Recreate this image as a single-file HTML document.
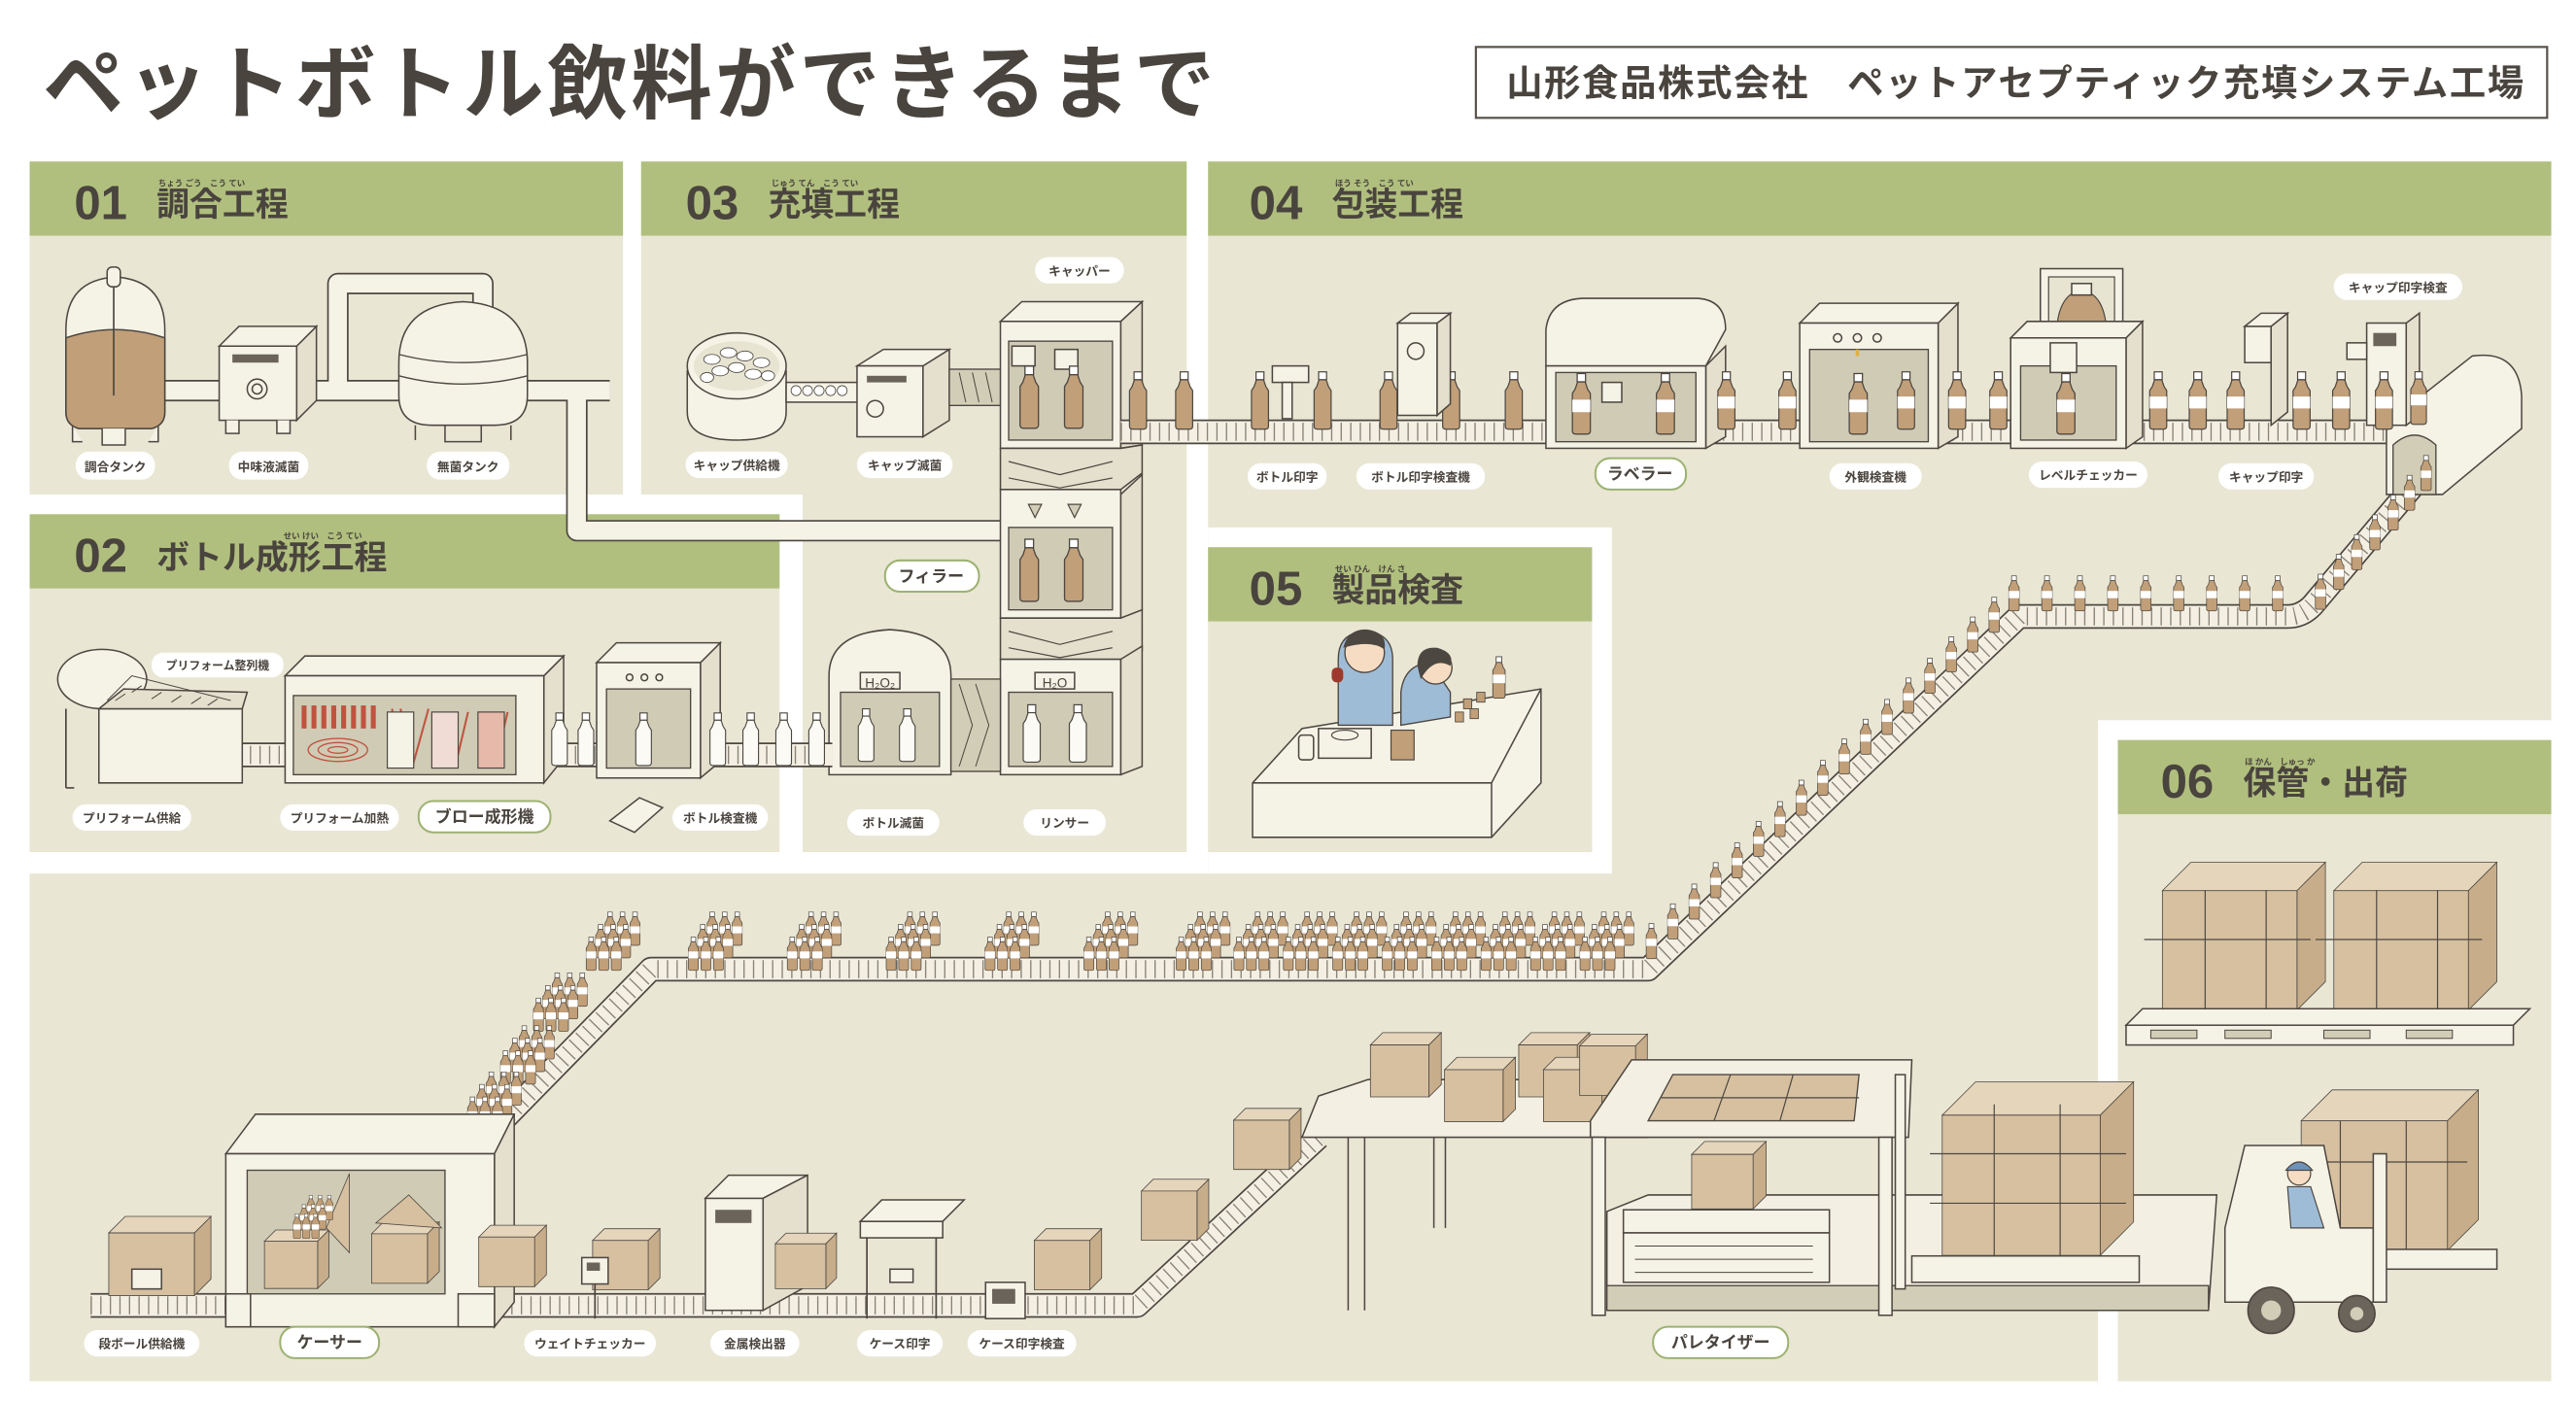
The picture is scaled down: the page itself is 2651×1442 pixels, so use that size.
<!DOCTYPE html>
<html><head><meta charset="utf-8"><style>
html,body{margin:0;padding:0;background:#fff;}
svg{display:block;}
text{font-family:"Liberation Sans","Noto Sans CJK JP",sans-serif;fill:#4a443e;}
.t{font-weight:bold;}
.m{fill:#f5f2e6;stroke:#4d4741;stroke-width:0.9;}
.ms{fill:#e4e0cd;stroke:#4d4741;stroke-width:0.9;}
.in{fill:#cfcbb5;stroke:#4d4741;stroke-width:0.8;}
.lb{fill:#fff;}
.lg{fill:#fff;stroke:#9db271;stroke-width:1.2;}
.pipe{fill:none;stroke:#4d4741;stroke-width:13;stroke-linejoin:round;}
.pipe2{fill:none;stroke:#f5f2e6;stroke-width:11;stroke-linejoin:round;}
.b1{fill:none;stroke:#4d4741;stroke-width:15;stroke-linejoin:round;}
.b2{fill:none;stroke:#f3f0e3;stroke-width:13;stroke-linejoin:round;}
.b3{fill:none;stroke:#8a8278;stroke-width:11;stroke-dasharray:0.8 5;stroke-linejoin:round;}
.bx{fill:#d6c0a0;stroke:#4d4741;stroke-width:0.8;vector-effect:non-scaling-stroke;}
.bxt{fill:#e5d5bb;stroke:#4d4741;stroke-width:0.8;vector-effect:non-scaling-stroke;}
.bxs{fill:#c7ad8a;stroke:#4d4741;stroke-width:0.8;vector-effect:non-scaling-stroke;}
</style></head><body>
<svg width="2651" height="1442" viewBox="0 0 1563 850" preserveAspectRatio="none" xmlns="http://www.w3.org/2000/svg">
<defs>
<symbol id="b" viewBox="0 0 10 30"><rect x="3" y="0.5" width="4" height="4" fill="#fff" stroke="#4d4741" stroke-width="0.6"/><path d="M3.2 4.5 L2 8 L0.7 10 L0.7 28 Q0.7 29.5 2.5 29.5 L7.5 29.5 Q9.3 29.5 9.3 28 L9.3 10 L8 8 L6.8 4.5 Z" fill="#c19f78" stroke="#4d4741" stroke-width="0.6"/><rect x="0.7" y="13" width="8.6" height="6" fill="#fff"/></symbol>
<symbol id="bn" viewBox="0 0 10 30"><rect x="3" y="0.5" width="4" height="4" fill="#fff" stroke="#4d4741" stroke-width="0.6"/><path d="M3.2 4.5 L2 8 L0.7 10 L0.7 28 Q0.7 29.5 2.5 29.5 L7.5 29.5 Q9.3 29.5 9.3 28 L9.3 10 L8 8 L6.8 4.5 Z" fill="#c19f78" stroke="#4d4741" stroke-width="0.6"/></symbol>
<symbol id="cb" viewBox="0 0 10 30"><rect x="3" y="0.5" width="4" height="4" fill="#fff" stroke="#4d4741" stroke-width="0.6"/><path d="M3.2 4.5 L2 8 L0.7 10 L0.7 28 Q0.7 29.5 2.5 29.5 L7.5 29.5 Q9.3 29.5 9.3 28 L9.3 10 L8 8 L6.8 4.5 Z" fill="#fbfaf4" stroke="#4d4741" stroke-width="0.6"/></symbol>
<symbol id="bx" viewBox="0 0 44 40"><path class="bxt" d="M0.5 8 L8 0.5 L43.5 0.5 L36 8 Z"/><path class="bxs" d="M36 8 L43.5 0.5 L43.5 32 L36 39.5 Z"/><rect class="bx" x="0.5" y="8" width="35.5" height="31.5"/></symbol>
<symbol id="grp" viewBox="0 0 40 40"><use href="#b" x="14" y="0" width="8" height="22"/><use href="#b" x="22" y="0" width="8" height="22"/><use href="#b" x="30" y="0" width="8" height="22"/><use href="#b" x="8" y="8" width="8" height="22"/><use href="#b" x="16" y="8" width="8" height="22"/><use href="#b" x="24" y="8" width="8" height="22"/><use href="#b" x="2" y="16" width="8" height="22"/><use href="#b" x="10" y="16" width="8" height="22"/><use href="#b" x="18" y="16" width="8" height="22"/></symbol>
</defs>

<rect width="1563" height="850" fill="#fff"/>
<text x="26" y="68" font-size="49" class="t" fill="#57504a" letter-spacing="2">ペットボトル飲料ができるまで</text>
<rect x="895.5" y="28.5" width="650" height="43" fill="#fff" stroke="#5a524a" stroke-width="1.3"/>
<text x="914" y="58" font-size="22" letter-spacing="1" class="t">山形食品株式会社　ペットアセプティック充填システム工場</text>

<rect x="18" y="98" width="360" height="202" fill="#e9e6d4"/>
<rect x="389" y="98" width="331" height="202" fill="#e9e6d4"/>
<rect x="487" y="98" width="233" height="419" fill="#e9e6d4"/>
<rect x="18" y="312" width="455" height="205" fill="#e9e6d4"/>
<path d="M733 98 L1548 98 L1548 437 L1273 437 L1273 838 L18 838 L18 530 L733 530 Z" fill="#e9e6d4"/>
<rect x="733" y="320" width="245" height="210" fill="#fff"/>
<rect x="733" y="332" width="233" height="185" fill="#e9e6d4"/>
<rect x="1273" y="437" width="290" height="413" fill="#fff"/>
<rect x="1285" y="449" width="263" height="389" fill="#e9e6d4"/>
<rect x="18" y="98" width="360" height="45" fill="#b0bf7e"/>
<rect x="389" y="98" width="331" height="45" fill="#b0bf7e"/>
<rect x="733" y="98" width="815" height="45" fill="#b0bf7e"/>
<rect x="18" y="312" width="455" height="45" fill="#b0bf7e"/>
<rect x="733" y="332" width="233" height="45" fill="#b0bf7e"/>
<rect x="1285" y="449" width="263" height="45" fill="#b0bf7e"/>
<g class="t">
<text x="45" y="133" font-size="29">01</text><text x="95" y="131" font-size="20">調合工程</text><text x="96" y="113" font-size="5">ちょう ごう　こう てい</text>
<text x="416" y="133" font-size="29">03</text><text x="466" y="131" font-size="20">充填工程</text><text x="468" y="113" font-size="5">じゅう てん　こう てい</text>
<text x="758" y="133" font-size="29">04</text><text x="808" y="131" font-size="20">包装工程</text><text x="810" y="113" font-size="5">ほう そう　こう てい</text>
<text x="45" y="347" font-size="29">02</text><text x="95" y="345" font-size="20">ボトル成形工程</text><text x="172" y="327" font-size="5">せい けい　こう てい</text>
<text x="758" y="367" font-size="29">05</text><text x="808" y="365" font-size="20">製品検査</text><text x="810" y="347" font-size="5">せい ひん　けん さ</text>
<text x="1311" y="484" font-size="29">06</text><text x="1361" y="482" font-size="20">保管・出荷</text><text x="1362" y="464" font-size="5">ほ かん　しゅっ か</text>
</g>

<!-- 01 -->
<path class="pipe" d="M96 237 L370 237 M205 237 L205 172 L293 172 L293 195 M320 237 L350 237 L350 322 L612 322"/>
<path class="pipe2" d="M96 237 L370 237 M205 237 L205 172 L293 172 L293 195 M320 237 L350 237 L350 322 L612 322"/>
<path class="m" d="M40 250 L40 200 Q40 170 70 168 Q100 170 100 200 L100 250 Q100 258 92 260 L48 260 Q40 258 40 250 Z"/>
<path d="M40 205 Q70 195 100 205 L100 250 Q100 258 92 260 L48 260 Q40 258 40 250 Z" fill="#c19f78" stroke="#4d4741" stroke-width="0.9"/>
<rect class="m" x="65" y="162" width="8" height="12" rx="3"/><line x1="69" y1="174" x2="69" y2="240" stroke="#4d4741"/>
<path d="M44 258 L44 268 L50 268 M96 258 L96 268 L90 268 M62 260 L62 270 L76 270 L76 260" fill="#f5f2e6" stroke="#4d4741" stroke-width="0.9"/>
<path class="ms" d="M180 210 L192 198 L192 243 L180 255 Z"/><path class="m" d="M133 210 L145 198 L192 198 L180 210 Z"/>
<rect class="m" x="133" y="210" width="47" height="45"/><rect x="141" y="215" width="28" height="5" fill="#6b645b"/>
<circle cx="156" cy="236" r="6" class="m"/><circle cx="156" cy="236" r="3" class="m"/>
<path d="M137 255 L137 263 L145 263 L145 255 M168 255 L168 263 L176 263 L176 255" fill="#f5f2e6" stroke="#4d4741" stroke-width="0.9"/>
<path class="m" d="M242 240 L242 220 Q242 185 281 183 Q320 185 320 220 L320 240 Q320 258 300 258 L262 258 Q242 258 242 240 Z"/>
<path d="M242 228 Q281 238 320 228" fill="none" stroke="#4d4741" stroke-width="0.8"/><path d="M242 215 Q281 225 320 215" fill="none" stroke="#4d4741" stroke-width="0.8"/>
<path d="M252 258 L252 267 M310 258 L310 267 M270 258 L270 268 L292 268 L292 258" fill="none" stroke="#4d4741" stroke-width="0.9"/>
<rect class="lb" x="46" y="274" width="48" height="17" rx="8"/><text x="70" y="286" font-size="7.5" text-anchor="middle" class="t">調合タンク</text>
<rect class="lb" x="139" y="274" width="48" height="17" rx="8"/><text x="163" y="286" font-size="7.5" text-anchor="middle" class="t">中味液滅菌</text>
<rect class="lb" x="259" y="274" width="50" height="17" rx="8"/><text x="284" y="286" font-size="7.5" text-anchor="middle" class="t">無菌タンク</text>

<!-- 03 -->
<path class="m" d="M417 225 L417 250 Q417 267 447 267 Q477 267 477 250 L477 225 Z"/>
<ellipse cx="447" cy="222" rx="30" ry="20" class="m"/>
<ellipse cx="447" cy="222" rx="26" ry="15" fill="#e8e4d2"/>
<g fill="#fff" stroke="#4d4741" stroke-width="0.5"><ellipse cx="432" cy="218" rx="5" ry="3"/><ellipse cx="442" cy="214" rx="5" ry="3"/><ellipse cx="452" cy="216" rx="5" ry="3"/><ellipse cx="462" cy="220" rx="5" ry="3"/><ellipse cx="437" cy="225" rx="5" ry="3"/><ellipse cx="447" cy="223" rx="5" ry="3"/><ellipse cx="457" cy="227" rx="5" ry="3"/><ellipse cx="429" cy="229" rx="4" ry="3"/><ellipse cx="466" cy="228" rx="4" ry="3"/></g>
<rect class="m" x="477" y="232" width="45" height="12"/>
<g fill="#fff" stroke="#4d4741" stroke-width="0.5"><circle cx="483" cy="237" r="3"/><circle cx="490" cy="237" r="3"/><circle cx="497" cy="237" r="3"/><circle cx="504" cy="237" r="3"/><circle cx="511" cy="237" r="3"/></g>
<path class="ms" d="M560 222 L576 212 L576 255 L560 265 Z"/><path class="m" d="M520 222 L536 212 L576 212 L560 222 Z"/>
<rect class="m" x="520" y="222" width="40" height="43"/><rect x="526" y="228" width="24" height="4" fill="#6b645b"/><circle cx="531" cy="248" r="5" class="m"/>
<rect x="576" y="224" width="33" height="22" fill="#d2cdb6" stroke="#4d4741" stroke-width="0.8"/>
<path d="M582 226 L586 244 M590 226 L594 244 M598 226 L602 244" stroke="#4d4741" stroke-width="0.6"/>
<path class="ms" d="M680 195 L693 183 L693 270 L680 272 Z"/><path class="m" d="M607 195 L620 183 L693 183 L680 195 Z"/>
<rect class="m" x="607" y="195" width="73" height="77"/><rect class="in" x="612" y="207" width="63" height="60"/>
<rect x="614" y="210" width="14" height="12" class="m"/><rect x="640" y="212" width="14" height="12" class="m"/>
<path class="ms" d="M607 272 L680 272 L693 270 L693 287 L680 297 L607 297 Z"/>
<path d="M612 280 L643 288 L675 280 M612 290 L643 296 L675 290" fill="none" stroke="#4d4741" stroke-width="0.7"/>
<path class="ms" d="M680 300 L693 288 L693 370 L680 375 Z"/>
<rect class="m" x="607" y="297" width="73" height="78"/><rect class="in" x="612" y="320" width="63" height="50"/>
<path d="M624 306 L628 314 L632 306 Z M648 306 L652 314 L656 306 Z" fill="#d2cdb6" stroke="#4d4741" stroke-width="0.7"/>
<path class="ms" d="M607 375 L680 375 L693 370 L693 395 L680 400 L607 400 Z"/>
<path d="M612 383 L643 391 L675 383 M612 393 L643 399 L675 393" fill="none" stroke="#4d4741" stroke-width="0.7"/>
<path class="ms" d="M680 400 L693 392 L693 465 L680 470 Z"/>
<rect class="m" x="607" y="400" width="73" height="70"/><rect class="in" x="612" y="420" width="63" height="45"/>
<rect x="628" y="408" width="24" height="10" class="m"/><text x="640" y="417" font-size="8" text-anchor="middle">H₂O</text>
<g><use href="#bn" x="618" y="220" width="13" height="42"/><use href="#bn" x="645" y="220" width="13" height="42"/>
<use href="#bn" x="618" y="325" width="13" height="42"/><use href="#bn" x="645" y="325" width="13" height="42"/>
<use href="#cb" x="620" y="425" width="12" height="40"/><use href="#cb" x="648" y="425" width="12" height="40"/></g>
<path class="m" d="M503 470 L503 410 Q503 384 540 382 Q577 384 577 410 L577 470 Z"/>
<rect class="in" x="510" y="420" width="60" height="45"/>
<rect x="522" y="408" width="24" height="10" class="m"/><text x="534" y="417" font-size="8" text-anchor="middle">H₂O₂</text>
<use href="#cb" x="520" y="428" width="11" height="36"/><use href="#cb" x="545" y="428" width="11" height="36"/>
<rect x="577" y="412" width="30" height="56" fill="#d2cdb6" stroke="#4d4741" stroke-width="0.8"/>
<path d="M582 415 L590 440 L582 465 M592 415 L600 440 L592 465" fill="none" stroke="#4d4741" stroke-width="0.6"/>
<rect class="lb" x="628" y="156" width="54" height="16" rx="8"/><text x="655" y="167" font-size="7.5" text-anchor="middle" class="t">キャッパー</text>
<rect class="lb" x="416" y="274" width="62" height="16" rx="8"/><text x="447" y="285" font-size="7.5" text-anchor="middle" class="t">キャップ供給機</text>
<rect class="lb" x="520" y="274" width="58" height="16" rx="8"/><text x="549" y="285" font-size="7.5" text-anchor="middle" class="t">キャップ滅菌</text>
<rect class="lg" x="537" y="340" width="57" height="19" rx="9"/><text x="565" y="353" font-size="10" text-anchor="middle" class="t">フィラー</text>
<rect class="lb" x="514" y="491" width="56" height="16" rx="8"/><text x="542" y="502" font-size="7.5" text-anchor="middle" class="t">ボトル滅菌</text>
<rect class="lb" x="621" y="491" width="50" height="16" rx="8"/><text x="646" y="502" font-size="7.5" text-anchor="middle" class="t">リンサー</text>

<!-- 02 -->
<path class="b1" d="M140 458 L505 458"/><path class="b2" d="M140 458 L505 458"/><path class="b3" d="M140 458 L505 458"/>
<ellipse cx="62" cy="412" rx="27" ry="18" class="m"/>
<path class="m" d="M60 430 L147 430 L147 475 L60 475 Z"/><path class="ms" d="M60 430 L75 418 L150 420 L147 430 Z"/>
<path d="M65 425 L80 410 L140 425" fill="none" stroke="#4d4741" stroke-width="0.6"/>
<g stroke="#4d4741" stroke-width="0.6" fill="#fff"><path d="M70 425 l6 -4 M80 420 l6 -4 M92 424 l6 -4 M104 426 l6 -4 M116 427 l6 -4 M126 428 l6 -4"/></g>
<path d="M40 430 L40 478 M45 478 L40 478" stroke="#4d4741" fill="none"/>
<path class="ms" d="M330 410 L342 398 L342 460 L330 475 Z"/><path class="m" d="M173 410 L185 398 L342 398 L330 410 Z"/>
<rect class="m" x="173" y="410" width="157" height="65"/><rect class="in" x="178" y="422" width="135" height="48"/>
<g fill="#c0533f"><rect x="183" y="428" width="3" height="14"/><rect x="189" y="428" width="3" height="14"/><rect x="195" y="428" width="3" height="14"/><rect x="201" y="428" width="3" height="14"/><rect x="207" y="428" width="3" height="14"/><rect x="213" y="428" width="3" height="14"/><rect x="219" y="428" width="3" height="14"/><rect x="225" y="428" width="3" height="14"/></g>
<g fill="none" stroke="#c0533f" stroke-width="0.8"><ellipse cx="205" cy="455" rx="18" ry="7"/><ellipse cx="205" cy="455" rx="12" ry="4.5"/><ellipse cx="205" cy="455" rx="6" ry="2"/></g>
<path d="M238 430 L238 466 M243 430 L250 466 L260 430 M268 432 L276 466 L284 432 M292 432 L300 466 L308 432" fill="none" stroke="#c0533f" stroke-width="1.2"/>
<rect x="235" y="432" width="16" height="34" fill="#f5f2e6" stroke="#4d4741" stroke-width="0.7"/>
<rect x="262" y="432" width="16" height="34" fill="#f0dcd5" stroke="#4d4741" stroke-width="0.7"/>
<rect x="290" y="432" width="16" height="34" fill="#e7b9aa" stroke="#4d4741" stroke-width="0.7"/>
<path class="ms" d="M425 402 L437 390 L437 462 L425 472 Z"/><path class="m" d="M362 402 L374 390 L437 390 L425 402 Z"/>
<rect class="m" x="362" y="402" width="63" height="70"/><rect class="in" x="368" y="418" width="51" height="48"/>
<circle cx="382" cy="411" r="2" class="m"/><circle cx="391" cy="411" r="2" class="m"/><circle cx="400" cy="411" r="2" class="m"/>
<g><use href="#cb" x="334" y="432" width="11" height="33"/><use href="#cb" x="350" y="432" width="11" height="33"/><use href="#cb" x="385" y="432" width="11" height="33"/><use href="#cb" x="430" y="432" width="11" height="33"/><use href="#cb" x="450" y="432" width="11" height="33"/><use href="#cb" x="470" y="432" width="11" height="33"/><use href="#cb" x="490" y="432" width="11" height="33"/></g>
<path d="M370 498 L388 484 L402 490 L385 505 Z" class="m"/>
<rect class="lb" x="92" y="396" width="80" height="15" rx="7"/><text x="132" y="406" font-size="7" text-anchor="middle" class="t">プリフォーム整列機</text>
<rect class="lb" x="44" y="488" width="72" height="16" rx="8"/><text x="80" y="499" font-size="7.5" text-anchor="middle" class="t">プリフォーム供給</text>
<rect class="lb" x="170" y="488" width="72" height="16" rx="8"/><text x="206" y="499" font-size="7.5" text-anchor="middle" class="t">プリフォーム加熱</text>
<rect class="lg" x="254" y="486" width="80" height="19" rx="9"/><text x="294" y="499" font-size="10" text-anchor="middle" class="t">ブロー成形機</text>
<rect class="lb" x="408" y="488" width="58" height="16" rx="8"/><text x="437" y="499" font-size="7.5" text-anchor="middle" class="t">ボトル検査機</text>

<!-- conveyors -->
<path class="b1" d="M680 262 L1460 262"/><path class="b2" d="M680 262 L1460 262"/><path class="b3" d="M680 262 L1460 262"/>
<path class="b1" d="M1485 270 L1405 365 Q1398 374 1388 374 L1225 374 L1000 588 L395 588 L295 690"/>
<path class="b2" d="M1485 270 L1405 365 Q1398 374 1388 374 L1225 374 L1000 588 L395 588 L295 690"/>
<path class="b3" d="M1485 270 L1405 365 Q1398 374 1388 374 L1225 374 L1000 588 L395 588 L295 690"/>
<path class="b1" d="M55 792 L690 792 L800 690"/><path class="b2" d="M55 792 L690 792 L800 690"/><path class="b3" d="M55 792 L690 792 L800 690"/>
<path class="m" d="M1448 300 L1448 262 Q1448 248 1462 246 L1500 216 Q1528 212 1530 240 L1530 260 L1482 300 Z"/>
<path d="M1452 300 L1452 270 Q1465 258 1478 270 L1478 300 Z" fill="#d2cdb6" stroke="#4d4741" stroke-width="0.8"/>

<g>
<use href="#bn" x="684" y="225" width="13" height="36"/><use href="#bn" x="712" y="225" width="13" height="36"/>
<use href="#bn" x="758" y="225" width="13" height="36"/><use href="#bn" x="796" y="225" width="13" height="36"/>
<use href="#bn" x="836" y="225" width="13" height="36"/><use href="#bn" x="874" y="225" width="13" height="36"/><use href="#bn" x="912" y="225" width="13" height="36"/>
</g>
<rect class="m" x="772" y="222" width="22" height="10"/><rect x="778" y="232" width="6" height="22" class="m"/>
<rect class="m" x="848" y="196" width="24" height="56"/><path class="ms" d="M872 196 L880 190 L880 245 L872 252 Z"/><path class="m" d="M848 196 L856 190 L880 190 L872 196Z"/><circle cx="859" cy="213" r="5" class="m"/>
<path class="ms" d="M1035 222 L1047 210 L1047 265 L1035 272 Z"/>
<path class="m" d="M938 222 L938 200 Q940 182 960 181 L1030 181 Q1047 182 1047 200 L1035 222 Z"/>
<rect class="m" x="938" y="222" width="97" height="50"/><rect class="in" x="944" y="226" width="85" height="42"/>
<use href="#b" x="953" y="226" width="13" height="38"/><use href="#b" x="1004" y="226" width="13" height="38"/>
<rect x="972" y="232" width="12" height="12" class="m"/>
<path class="ms" d="M1176 196 L1188 184 L1188 265 L1176 272 Z"/><path class="m" d="M1092 196 L1104 184 L1188 184 L1176 196 Z"/>
<rect class="m" x="1092" y="196" width="84" height="76"/><rect class="in" x="1098" y="212" width="72" height="56"/>
<circle cx="1115" cy="205" r="2.5" class="m"/><circle cx="1127" cy="205" r="2.5" class="m"/><circle cx="1139" cy="205" r="2.5" class="m"/>
<path d="M1127 212 L1127 216" stroke="#e0b040" stroke-width="2"/>
<use href="#b" x="1121" y="226" width="13" height="38"/>
<rect class="m" x="1238" y="163" width="50" height="40"/><rect x="1243" y="168" width="40" height="30" fill="#e8e4d2" stroke="#4d4741" stroke-width="0.7"/>
<path d="M1248 198 Q1250 178 1263 176 Q1276 178 1278 198 Z" fill="#c19f78" stroke="#4d4741" stroke-width="0.7"/><rect x="1257" y="172" width="12" height="7" class="m"/>
<path class="ms" d="M1290 205 L1300 195 L1300 265 L1290 272 Z"/><path class="m" d="M1220 205 L1230 195 L1300 195 L1290 205 Z"/>
<rect class="m" x="1220" y="205" width="70" height="67"/><rect class="in" x="1226" y="222" width="58" height="45"/>
<rect class="m" x="1244" y="208" width="16" height="18"/>
<use href="#b" x="1247" y="226" width="13" height="38"/>
<rect class="m" x="1362" y="198" width="16" height="22"/><path class="ms" d="M1378 198 L1388 190 L1388 250 L1378 258 Z"/><path class="m" d="M1362 198 L1372 190 L1388 190 L1378 198Z"/>
<rect class="m" x="1436" y="196" width="24" height="62"/><path class="ms" d="M1460 196 L1468 190 L1468 252 L1460 258Z"/><rect x="1440" y="202" width="14" height="8" fill="#6b645b"/>
<rect class="m" x="1424" y="208" width="12" height="10"/>
<g>
<use href="#b" x="1041" y="225" width="13" height="36"/><use href="#b" x="1078" y="225" width="13" height="36"/>
<use href="#b" x="1150" y="225" width="13" height="36"/><use href="#b" x="1181" y="225" width="13" height="36"/><use href="#b" x="1206" y="225" width="13" height="36"/>
<use href="#b" x="1303" y="225" width="13" height="36"/><use href="#b" x="1327" y="225" width="13" height="36"/><use href="#b" x="1350" y="225" width="13" height="36"/>
<use href="#b" x="1390" y="225" width="13" height="36"/><use href="#b" x="1414" y="225" width="13" height="36"/><use href="#b" x="1440" y="225" width="13" height="36"/>
<use href="#b" x="1462" y="225" width="11" height="33"/>
</g>
<g>
<use href="#b" x="1468" y="276" width="8" height="22"/><use href="#b" x="1458" y="288" width="8" height="22"/><use href="#b" x="1448" y="300" width="8" height="22"/><use href="#b" x="1437" y="312" width="8" height="22"/><use href="#b" x="1426" y="324" width="8" height="22"/><use href="#b" x="1415" y="336" width="8" height="22"/><use href="#b" x="1404" y="348" width="8" height="22"/>
<use href="#b" x="1378" y="349" width="8" height="22"/><use href="#b" x="1358" y="349" width="8" height="22"/><use href="#b" x="1338" y="349" width="8" height="22"/><use href="#b" x="1318" y="349" width="8" height="22"/><use href="#b" x="1298" y="349" width="8" height="22"/><use href="#b" x="1278" y="349" width="8" height="22"/><use href="#b" x="1258" y="349" width="8" height="22"/><use href="#b" x="1238" y="349" width="8" height="22"/><use href="#b" x="1218" y="349" width="8" height="22"/>
<use href="#b" x="1206" y="362" width="8" height="22"/><use href="#b" x="1193" y="374" width="8" height="22"/><use href="#b" x="1180" y="386" width="8" height="22"/><use href="#b" x="1167" y="399" width="8" height="22"/><use href="#b" x="1154" y="411" width="8" height="22"/><use href="#b" x="1141" y="424" width="8" height="22"/><use href="#b" x="1128" y="436" width="8" height="22"/><use href="#b" x="1115" y="448" width="8" height="22"/><use href="#b" x="1102" y="461" width="8" height="22"/><use href="#b" x="1089" y="473" width="8" height="22"/><use href="#b" x="1076" y="486" width="8" height="22"/><use href="#b" x="1063" y="498" width="8" height="22"/><use href="#b" x="1050" y="511" width="8" height="22"/><use href="#b" x="1037" y="523" width="8" height="22"/><use href="#b" x="1024" y="536" width="8" height="22"/><use href="#b" x="1011" y="548" width="8" height="22"/><use href="#b" x="998" y="560" width="8" height="22"/>
</g>
<g>
<use href="#grp" x="352" y="553" width="40" height="38"/><use href="#grp" x="414" y="553" width="40" height="38"/><use href="#grp" x="474" y="553" width="40" height="38"/><use href="#grp" x="534" y="553" width="40" height="38"/><use href="#grp" x="594" y="553" width="40" height="38"/><use href="#grp" x="654" y="553" width="40" height="38"/>
<use href="#grp" x="710" y="553" width="40" height="38"/><use href="#grp" x="745" y="553" width="40" height="38"/><use href="#grp" x="775" y="553" width="40" height="38"/><use href="#grp" x="805" y="553" width="40" height="38"/><use href="#grp" x="835" y="553" width="40" height="38"/><use href="#grp" x="865" y="553" width="40" height="38"/><use href="#grp" x="895" y="553" width="40" height="38"/><use href="#grp" x="925" y="553" width="40" height="38"/><use href="#grp" x="955" y="553" width="40" height="38"/>
<use href="#grp" x="320" y="590" width="40" height="38"/><use href="#grp" x="300" y="622" width="40" height="38"/><use href="#grp" x="280" y="650" width="40" height="38"/>
</g>
<rect class="lb" x="757" y="281" width="48" height="16" rx="8"/><text x="781" y="292" font-size="7.5" text-anchor="middle" class="t">ボトル印字</text>
<rect class="lb" x="823" y="281" width="78" height="16" rx="8"/><text x="862" y="292" font-size="7.5" text-anchor="middle" class="t">ボトル印字検査機</text>
<rect class="lg" x="968" y="278" width="55" height="19" rx="9"/><text x="995" y="291" font-size="10" text-anchor="middle" class="t">ラベラー</text>
<rect class="lb" x="1110" y="281" width="56" height="16" rx="8"/><text x="1138" y="292" font-size="7.5" text-anchor="middle" class="t">外観検査機</text>
<rect class="lb" x="1231" y="280" width="72" height="16" rx="8"/><text x="1267" y="291" font-size="7.5" text-anchor="middle" class="t">レベルチェッカー</text>
<rect class="lb" x="1346" y="281" width="58" height="16" rx="8"/><text x="1375" y="292" font-size="7.5" text-anchor="middle" class="t">キャップ印字</text>
<rect class="lb" x="1416" y="166" width="78" height="16" rx="8"/><text x="1455" y="177" font-size="7.5" text-anchor="middle" class="t">キャップ印字検査</text>

<!-- 05 -->
<path class="m" d="M760 475 L790 442 L935 418 L935 475 L905 508 L760 508 Z"/>
<path d="M760 475 L905 475 L935 418 M905 475 L905 508" fill="none" stroke="#4d4741" stroke-width="0.9"/>
<path d="M812 400 Q812 383 830 383 Q845 385 845 400 L845 440 L812 440 Z" fill="#9fbcd6" stroke="#4d4741" stroke-width="0.8"/>
<circle cx="828" cy="396" r="12" fill="#f6dcc3" stroke="#4d4741" stroke-width="0.8"/><path d="M815 393 Q818 381 830 382 Q842 384 840 394 Q832 388 815 393Z" fill="#4d4741"/>
<rect x="808" y="405" width="7" height="9" rx="3" fill="#9b3a2d"/>
<path d="M850 420 Q852 403 868 402 L880 420 L880 435 L850 440 Z" fill="#9fbcd6" stroke="#4d4741" stroke-width="0.8"/>
<circle cx="871" cy="405" r="10" fill="#f6dcc3" stroke="#4d4741" stroke-width="0.8"/><path d="M860 404 Q860 392 872 393 Q883 396 880 404 Q870 398 862 412 Z" fill="#4d4741"/>
<use href="#b" x="904" y="398" width="11" height="26"/>
<rect class="m" x="800" y="442" width="32" height="18"/><ellipse cx="816" cy="446" rx="8" ry="3" fill="none" stroke="#4d4741" stroke-width="0.7"/>
<rect class="m" x="788" y="446" width="9" height="15" rx="2"/>
<rect x="844" y="443" width="14" height="18" fill="#c19f78" stroke="#4d4741" stroke-width="0.7"/>
<g fill="#c19f78" stroke="#4d4741" stroke-width="0.5"><rect x="888" y="424" width="5" height="6"/><rect x="892" y="430" width="5" height="6"/><rect x="896" y="420" width="5" height="6"/><rect x="883" y="432" width="5" height="6"/></g>

<!-- bottom -->
<rect class="bx" x="66" y="748" width="52" height="38"/><path class="bxs" d="M118 748 L128 738 L128 776 L118 786 Z"/><path class="bxt" d="M66 748 L76 738 L128 738 L118 748Z"/>
<rect class="m" x="80" y="770" width="18" height="12"/>
<path class="m" d="M137 700 L155 676 L312 676 L300 700 Z"/><path class="ms" d="M300 700 L312 676 L312 790 L300 805 Z"/>
<rect class="m" x="137" y="700" width="163" height="105"/><rect class="in" x="150" y="710" width="120" height="75"/>
<rect x="137" y="785" width="15" height="20" class="m"/><rect x="278" y="785" width="22" height="20" class="m"/>
<use href="#bx" x="160" y="745" width="40" height="38"/><use href="#bx" x="225" y="740" width="42" height="40"/>
<path d="M198 745 L212 712 L212 760 Z M228 742 L248 725 L268 745 Z" class="bx"/>
<use href="#grp" x="175" y="725" width="30" height="28"/>
<use href="#bx" x="290" y="742" width="42" height="40"/>
<use href="#bx" x="357" y="745" width="46" height="38"/>
<rect class="m" x="353" y="763" width="16" height="16"/><rect x="356" y="766" width="8" height="5" fill="#6b645b"/><line x1="361" y1="779" x2="361" y2="800" stroke="#4d4741"/>
<rect class="m" x="428" y="727" width="35" height="68"/><path class="m" d="M428 727 L442 713 L490 713 L463 727Z"/><path class="ms" d="M463 727 L490 713 L490 780 L463 795Z"/>
<rect x="434" y="734" width="22" height="8" fill="#6b645b"/>
<use href="#bx" x="470" y="747" width="38" height="36"/>
<rect class="m" x="522" y="741" width="50" height="10"/><path class="m" d="M522 741 L535 728 L585 728 L572 741Z"/>
<line x1="526" y1="751" x2="526" y2="800" stroke="#4d4741"/><line x1="568" y1="751" x2="568" y2="800" stroke="#4d4741"/>
<rect class="m" x="540" y="770" width="14" height="8"/>
<use href="#bx" x="625" y="745" width="46" height="38"/>
<rect class="m" x="598" y="778" width="24" height="22"/><rect x="602" y="782" width="14" height="9" fill="#6b645b"/>
<use href="#bx" x="692" y="715" width="42" height="38"/><use href="#bx" x="748" y="672" width="42" height="38"/>
<path d="M800 665 L830 655 L1010 655 L1000 690 L790 690 Z" fill="#f3f0e3" stroke="#4d4741" stroke-width="0.9"/>
<g stroke="#4d4741" stroke-width="0.9"><line x1="818" y1="690" x2="818" y2="795"/><line x1="828" y1="690" x2="828" y2="795"/><line x1="870" y1="690" x2="870" y2="745"/><line x1="877" y1="690" x2="877" y2="745"/></g>
<use href="#bx" x="828" y="626" width="50" height="40"/><use href="#bx" x="873" y="641" width="50" height="40"/><use href="#bx" x="918" y="626" width="50" height="40"/><use href="#bx" x="933" y="641" width="50" height="40"/><use href="#bx" x="958" y="626" width="42" height="40"/>
<path d="M975 735 L1000 725 L1345 725 L1340 795 L975 795 Z" fill="#f3f0e3" stroke="#4d4741" stroke-width="0.9"/>
<rect x="975" y="780" width="365" height="15" fill="#d2cdb6" stroke="#4d4741" stroke-width="0.8"/>
<path d="M965 680 L990 643 L1160 643 L1158 690 L965 690 Z" fill="#f3f0e3" stroke="#4d4741" stroke-width="0.9"/>
<path d="M1000 680 L1015 652 L1128 652 L1125 680 Z" fill="#d6c0a0" stroke="#4d4741" stroke-width="0.8"/>
<path d="M1040 680 L1050 652 M1080 680 L1088 652 M1008 666 L1128 666" stroke="#4d4741" stroke-width="0.7"/>
<g stroke="#4d4741" fill="#f5f2e6" stroke-width="0.9"><rect x="966" y="690" width="8" height="108"/><rect x="1140" y="690" width="8" height="108"/><rect x="1150" y="652" width="6" height="130"/></g>
<use href="#bx" x="993" y="692" width="112" height="42"/>
<rect class="m" x="985" y="734" width="125" height="14"/><rect class="m" x="985" y="748" width="125" height="30"/>
<g stroke="#4d4741" stroke-width="0.6"><line x1="992" y1="756" x2="1100" y2="756"/><line x1="992" y1="764" x2="1100" y2="764"/><line x1="992" y1="772" x2="1100" y2="772"/></g>
<use href="#bx" x="1170" y="655" width="133" height="108"/>
<g stroke="#4d4741" stroke-width="0.7"><line x1="1171" y1="700" x2="1290" y2="700"/><line x1="1171" y1="730" x2="1290" y2="730"/><line x1="1210" y1="670" x2="1210" y2="762"/><line x1="1250" y1="670" x2="1250" y2="762"/></g>
<rect class="m" x="1160" y="762" width="138" height="16"/>
<rect class="lb" x="51" y="807" width="70" height="16" rx="8"/><text x="86" y="818" font-size="7.5" text-anchor="middle" class="t">段ボール供給機</text>
<rect class="lg" x="170" y="805" width="60" height="19" rx="9"/><text x="200" y="818" font-size="10" text-anchor="middle" class="t">ケーサー</text>
<rect class="lb" x="318" y="807" width="80" height="16" rx="8"/><text x="358" y="818" font-size="7.5" text-anchor="middle" class="t">ウェイトチェッカー</text>
<rect class="lb" x="431" y="807" width="54" height="16" rx="8"/><text x="458" y="818" font-size="7.5" text-anchor="middle" class="t">金属検出器</text>
<rect class="lb" x="520" y="807" width="52" height="16" rx="8"/><text x="546" y="818" font-size="7.5" text-anchor="middle" class="t">ケース印字</text>
<rect class="lb" x="587" y="807" width="66" height="16" rx="8"/><text x="620" y="818" font-size="7.5" text-anchor="middle" class="t">ケース印字検査</text>
<rect class="lg" x="1003" y="805" width="82" height="19" rx="9"/><text x="1044" y="818" font-size="10" text-anchor="middle" class="t">パレタイザー</text>

<!-- 06 -->
<use href="#bx" x="1300" y="522" width="123" height="92"/><use href="#bx" x="1404" y="522" width="123" height="92"/>
<g stroke="#4d4741" stroke-width="0.7"><line x1="1301" y1="570" x2="1402" y2="570"/><line x1="1338" y1="540" x2="1338" y2="614"/><line x1="1375" y1="540" x2="1375" y2="614"/><line x1="1405" y1="570" x2="1506" y2="570"/><line x1="1442" y1="540" x2="1442" y2="614"/><line x1="1479" y1="540" x2="1479" y2="614"/></g>
<path class="m" d="M1290 622 L1300 612 L1535 612 L1525 622 Z"/><rect class="m" x="1290" y="622" width="235" height="12"/>
<g fill="#d2cdb6" stroke="#4d4741" stroke-width="0.6"><rect x="1305" y="625" width="28" height="5"/><rect x="1350" y="625" width="28" height="5"/><rect x="1410" y="625" width="28" height="5"/><rect x="1460" y="625" width="28" height="5"/></g>
<use href="#bx" x="1375" y="660" width="150" height="100"/>
<g stroke="#4d4741" stroke-width="0.7"><line x1="1376" y1="705" x2="1497" y2="705"/><line x1="1420" y1="680" x2="1420" y2="758"/><line x1="1460" y1="680" x2="1460" y2="758"/></g>
<rect class="m" x="1375" y="758" width="140" height="12"/>
<path class="m" d="M1350 745 L1362 695 L1410 695 L1420 745 L1440 745 L1440 790 L1350 790 Z"/>
<rect class="m" x="1440" y="700" width="8" height="90"/>
<circle cx="1395" cy="712" r="7" fill="#f6dcc3" stroke="#4d4741" stroke-width="0.7"/><path d="M1387 710 Q1395 700 1403 710 Z" fill="#6f93b8" stroke="#4d4741" stroke-width="0.7"/>
<path d="M1388 720 L1402 720 L1410 745 L1390 745 Z" fill="#9fbcd6" stroke="#4d4741" stroke-width="0.7"/>
<circle cx="1378" cy="795" r="14" fill="#6b645b" stroke="#4d4741"/><circle cx="1378" cy="795" r="6" fill="#d2cdb6"/>
<circle cx="1430" cy="797" r="11" fill="#6b645b" stroke="#4d4741"/><circle cx="1430" cy="797" r="4" fill="#d2cdb6"/>
</svg>
</body></html>
